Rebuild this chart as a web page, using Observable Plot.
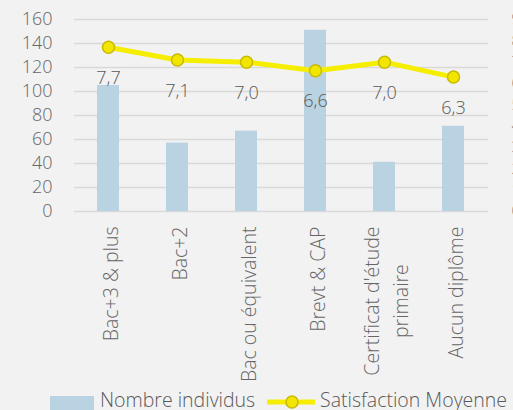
<!DOCTYPE html>
<html>
<head>
<meta charset="utf-8">
<script src="https://cdn.jsdelivr.net/npm/d3@7"></script>
<script src="https://cdn.jsdelivr.net/npm/@observablehq/plot@0.6"></script>
<style>
  html, body { margin: 0; padding: 0; background: #f2f2f2; overflow: hidden; width: 513px; height: 410px; }
  body { font-family: "Open Sans", sans-serif; font-weight: 300; }
  #chart svg { display: block; }
  .legend { position: absolute; left: 0; top: 390px; height: 22px; width: 600px; font-size: 19.5px; color: #595959; }
  .legend .sw { position: absolute; left: 50px; top: 6px; width: 44px; height: 18px; background: #b9d3e3; }
  .legend .t1 { position: absolute; left: 100px; top: -1px; line-height: 22px; white-space: nowrap; }
  .legend .ln { position: absolute; left: 267px; top: 0; }
  .legend .t2 { position: absolute; left: 320px; top: -1px; line-height: 22px; white-space: nowrap; }
</style>
</head>
<body>
<div id="chart"></div>
<script>
const categories = ["Bac+3 & plus", "Bac+2", "Bac ou équivalent", "Brevt & CAP", "Certificat d'étude\nprimaire", "Aucun diplôme"];
const nombreIndividus = [105, 57, 67, 151, 41, 71];
const satisfactionMoyenne = [7.7, 7.1, 7.0, 6.6, 7.0, 6.3];
const leftTicks = [0, 20, 40, 60, 80, 100, 120, 140, 160];
const rightTicks = [0, 1, 2, 3, 4, 5, 6, 7, 8, 9];

const right = d3.scaleLinear([0, 9], [0, 160]);
const data = categories.map((c, i) => ({cat: c, n: nombreIndividus[i], s: satisfactionMoyenne[i], sy: right(satisfactionMoyenne[i])}));
const fmt = v => d3.format(".1f")(v).replace(".", ",");

const chart = Plot.plot({
  width: 513,
  height: 390,
  marginLeft: 74,
  marginRight: 25,
  marginTop: 19,
  marginBottom: 179,
  style: {background: "#f2f2f2", fontFamily: "'Open Sans', sans-serif", fontWeight: 300, fontSize: "18px", color: "#666", overflow: "visible"},
  x: {domain: categories, paddingInner: 0.68, paddingOuter: 0.34, label: null},
  y: {domain: [0, 160], label: null},
  marks: [
    Plot.ruleY(leftTicks, {stroke: "#d9d9d9", strokeWidth: 1.5}),
    Plot.barY(data, {x: "cat", y: "n", fill: "#b9d3e3"}),
    Plot.line(data, {x: "cat", y: "sy", stroke: "#f5ee00", strokeWidth: 5}),
    Plot.dot(data, {x: "cat", y: "sy", r: 6, fill: "#f2e600", stroke: "#c9ba00", strokeWidth: 1.5}),
    Plot.text(data, {x: "cat", y: "sy", text: d => fmt(d.s), dy: 31, fill: "#595959", fontSize: 18, fontWeight: 300}),
    Plot.axisY(leftTicks, {anchor: "left", tickSize: 0, tickPadding: 22, fill: "#666", fontSize: 18, label: null}),
    Plot.axisY(rightTicks.map(right), {anchor: "right", tickSize: 0, tickPadding: 23, textAnchor: "start", tickFormat: (d) => String(Math.round(right.invert(d))), fill: "#777", fontSize: 15, label: null}),
    Plot.axisX({tickSize: 0, tickPadding: 15, tickRotate: -90, fill: "#666", fontSize: 19.5, lineHeight: 1.49, label: null})
  ]
});
document.getElementById("chart").appendChild(chart);

// center wrapped category lines on each other (as in the reference)
d3.select(chart).selectAll("text").each(function() {
  const tspans = d3.select(this).selectAll("tspan");
  if (tspans.size() > 1) {
    let maxLen = 0;
    tspans.each(function() { maxLen = Math.max(maxLen, this.getComputedTextLength()); });
    d3.select(this).attr("text-anchor", "middle").style("text-anchor", "middle");
    tspans.attr("x", -maxLen / 2);
  }
});

const legend = document.createElement("div");
legend.className = "legend";
legend.innerHTML = `<div class="sw"></div><div class="t1">Nombre individus</div>
<svg class="ln" width="50" height="22"><line x1="0" x2="48" y1="12" y2="12" stroke="#f5ee00" stroke-width="5"/><circle cx="25" cy="12" r="6" fill="#f2e600" stroke="#c9ba00" stroke-width="1.5"/></svg>
<div class="t2">Satisfaction Moyenne</div>`;
document.body.appendChild(legend);
</script>
</body>
</html>
